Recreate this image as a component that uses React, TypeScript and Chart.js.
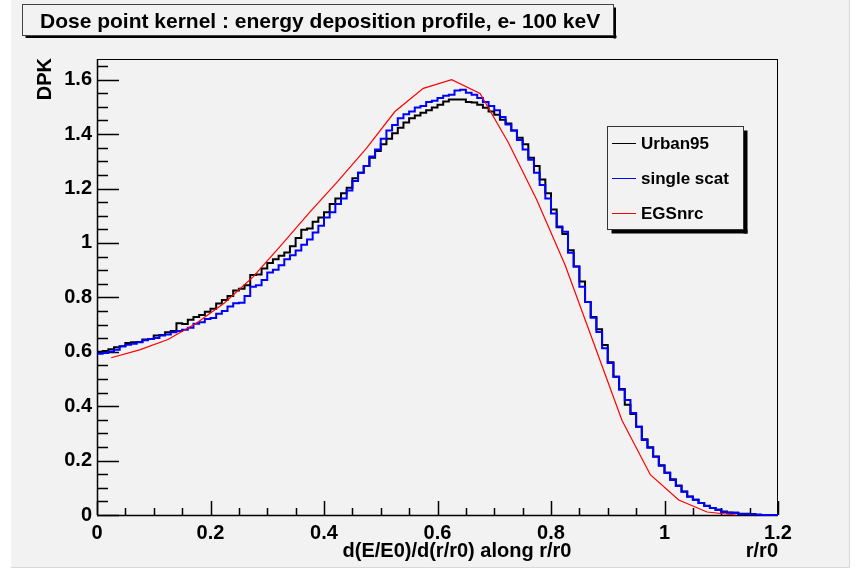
import React, { useEffect, useRef } from "react";
import { Chart, registerables } from "chart.js";

Chart.register(...registerables);

// Histogram binning: 120 bins of width 0.01 over r/r0 in [0, 1.2]
const BIN_WIDTH = 0.01;

// Urban95 multiple-scattering model, per-bin DPK
const urban95 = [
  0.6, 0.603, 0.609, 0.617, 0.62, 0.632, 0.635, 0.636, 0.645, 0.647,
  0.66, 0.662, 0.672, 0.676, 0.705, 0.702, 0.718, 0.728, 0.735, 0.747,
  0.758, 0.777, 0.79, 0.805, 0.825, 0.832, 0.844, 0.882, 0.884, 0.906,
  0.926, 0.94, 0.953, 0.965, 0.988, 1.018, 1.048, 1.053, 1.078, 1.093,
  1.113, 1.143, 1.163, 1.183, 1.203, 1.238, 1.258, 1.283, 1.313, 1.338,
  1.363, 1.383, 1.403, 1.423, 1.443, 1.458, 1.468, 1.478, 1.488, 1.498,
  1.508, 1.52, 1.527, 1.527, 1.527, 1.518, 1.516, 1.508, 1.497, 1.483,
  1.471, 1.453, 1.439, 1.413, 1.387, 1.363, 1.313, 1.283, 1.233, 1.183,
  1.123, 1.058, 1.033, 0.973, 0.913, 0.858, 0.783, 0.728, 0.683, 0.625,
  0.561, 0.508, 0.463, 0.405, 0.371, 0.324, 0.278, 0.249, 0.215, 0.183,
  0.155, 0.131, 0.108, 0.086, 0.068, 0.056, 0.044, 0.034, 0.026, 0.019,
  0.013, 0.009, 0.008, 0.005, 0.005, 0.004, 0, 0, 0, 0,
];

// Single-scattering model, per-bin DPK
const singleScat = [
  0.593, 0.595, 0.601, 0.607, 0.62, 0.626, 0.629, 0.635, 0.642, 0.647,
  0.651, 0.66, 0.663, 0.672, 0.676, 0.681, 0.688, 0.703, 0.708, 0.72,
  0.724, 0.74, 0.75, 0.766, 0.778, 0.78, 0.805, 0.839, 0.844, 0.864,
  0.891, 0.901, 0.918, 0.94, 0.955, 0.972, 0.993, 1.013, 1.038, 1.063,
  1.093, 1.113, 1.143, 1.163, 1.193, 1.228, 1.258, 1.283, 1.318, 1.343,
  1.383, 1.413, 1.433, 1.458, 1.473, 1.483, 1.498, 1.503, 1.518, 1.523,
  1.533, 1.541, 1.545, 1.56, 1.563, 1.552, 1.545, 1.533, 1.518, 1.503,
  1.488, 1.463, 1.435, 1.413, 1.378, 1.343, 1.306, 1.258, 1.213, 1.163,
  1.108, 1.06, 1.041, 0.964, 0.913, 0.839, 0.783, 0.725, 0.673, 0.613,
  0.559, 0.508, 0.46, 0.423, 0.375, 0.324, 0.276, 0.247, 0.214, 0.181,
  0.155, 0.129, 0.107, 0.085, 0.067, 0.056, 0.044, 0.033, 0.026, 0.019,
  0.011, 0.008, 0.008, 0.004, 0.004, 0.003, 0.002, 0, 0, 0,
];

// EGSnrc reference curve
const egsR = [
  0.025, 0.075, 0.125, 0.175, 0.225, 0.275, 0.325, 0.375, 0.425, 0.475,
  0.525, 0.575, 0.625, 0.675, 0.725, 0.775, 0.825, 0.875, 0.925, 0.975,
  1.025, 1.075, 1.125,
];
const egsDpk = [
  0.578, 0.607, 0.645, 0.705, 0.78, 0.875, 0.993, 1.113, 1.228, 1.348,
  1.483, 1.568, 1.6, 1.549, 1.368, 1.158, 0.918, 0.633, 0.348, 0.148,
  0.055, 0.011, 0.0,
];

const xTickValues = [0, 0.2, 0.4, 0.6, 0.8, 1, 1.2];
const yTickValues = [0, 0.2, 0.4, 0.6, 0.8, 1, 1.2, 1.4, 1.6];

const seriesNames = ["Urban95", "single scat", "EGSnrc"];
const seriesColors = ["#000000", "#0000ff", "#ff0000"];

const titleText = "Dose point kernel : energy deposition profile, e- 100 keV";
const xTitle = "d(E/E0)/d(r/r0) along r/r0";
const xUnitTitle = "r/r0";
const yTitle = "DPK";

const FONT = "'Liberation Sans', Arial, Helvetica, sans-serif";
const BG = "#f2f2f2";

function histPoints(values: number[]) {
  const pts = values.map((v, i) => ({ x: i * BIN_WIDTH, y: v }));
  pts.push({ x: values.length * BIN_WIDTH, y: values[values.length - 1] });
  return pts;
}

// ROOT-like frame, inward ticks, title box, legend and axis titles
const rootStylePlugin = {
  id: "rootStyle",
  beforeDraw(chart: any) {
    const { ctx, width, height } = chart;
    ctx.save();
    ctx.fillStyle = "#ffffff";
    ctx.fillRect(0, 0, width, height);
    ctx.fillStyle = BG;
    ctx.fillRect(11, 0, 838, 567);
    ctx.strokeStyle = "#d8d8d8";
    ctx.lineWidth = 1;
    ctx.beginPath();
    ctx.moveTo(11, 567.5);
    ctx.lineTo(849.5, 567.5);
    ctx.lineTo(849.5, 0);
    ctx.stroke();
    ctx.restore();
  },
  beforeDatasetsDraw(chart: any) {
    const { ctx, chartArea } = chart;
    const xs = chart.scales.x;
    const ys = chart.scales.y;
    const { left, right, top, bottom } = chartArea;
    ctx.save();
    ctx.strokeStyle = "#000";
    ctx.lineWidth = 1;
    ctx.strokeRect(left + 0.5, top + 0.5, right - left - 1, bottom - top);
    ctx.lineWidth = 1.5;
    ctx.beginPath();
    // x axis ticks, pointing into the frame
    for (let k = 0; k <= 24; k++) {
      const v = k * 0.05;
      const px = Math.round(xs.getPixelForValue(v)) + 0.5;
      const len = k % 4 === 0 ? 14 : 7;
      ctx.moveTo(px, bottom);
      ctx.lineTo(px, bottom - len);
    }
    // y axis ticks
    for (let k = 0; k <= 33; k++) {
      const v = k * 0.05;
      if (v > ys.max) break;
      const py = Math.round(ys.getPixelForValue(v)) + 0.5;
      const len = k % 4 === 0 ? 22 : 11;
      ctx.moveTo(left, py);
      ctx.lineTo(left + len, py);
    }
    ctx.stroke();
    ctx.lineWidth = 1.5;
    ctx.beginPath();
    ctx.moveTo(left, bottom + 0.5);
    ctx.lineTo(right, bottom + 0.5);
    ctx.moveTo(left + 0.5, top);
    ctx.lineTo(left + 0.5, bottom);
    ctx.stroke();
    ctx.restore();
  },
  afterDraw(chart: any) {
    const { ctx, chartArea } = chart;
    ctx.save();

    // title box with shadow
    const tb = { x: 22.5, y: 4.5, w: 591, h: 31 };
    ctx.fillStyle = "#000";
    ctx.fillRect(tb.x + 3, tb.y + tb.h, tb.w, 2.5);
    ctx.fillRect(tb.x + tb.w, tb.y + 3, 2.5, tb.h);
    ctx.fillStyle = BG;
    ctx.fillRect(tb.x, tb.y, tb.w, tb.h);
    ctx.strokeStyle = "#444";
    ctx.lineWidth = 1;
    ctx.strokeRect(tb.x, tb.y, tb.w, tb.h);
    ctx.fillStyle = "#000";
    ctx.font = `bold 21px ${FONT}`;
    ctx.textBaseline = "alphabetic";
    ctx.textAlign = "left";
    ctx.fillText(titleText, 40, 28);

    // legend box with shadow
    const lb = { x: 607.5, y: 126.5, w: 136, h: 103 };
    ctx.fillStyle = "#000";
    ctx.fillRect(lb.x + 4, lb.y + lb.h, lb.w, 4);
    ctx.fillRect(lb.x + lb.w, lb.y + 4, 4, lb.h);
    ctx.fillStyle = BG;
    ctx.fillRect(lb.x, lb.y, lb.w, lb.h);
    ctx.strokeStyle = "#333";
    ctx.lineWidth = 1;
    ctx.strokeRect(lb.x, lb.y, lb.w, lb.h);
    const rows = [143, 178, 213];
    ctx.font = `bold 17px ${FONT}`;
    ctx.textBaseline = "middle";
    seriesNames.forEach((name, i) => {
      ctx.strokeStyle = seriesColors[i];
      ctx.lineWidth = 1;
      ctx.beginPath();
      ctx.moveTo(612, rows[i] + 0.5);
      ctx.lineTo(636, rows[i] + 0.5);
      ctx.stroke();
      ctx.fillStyle = "#000";
      ctx.fillText(name, 641, rows[i] + 1);
    });

    // axis titles
    ctx.font = `bold 20px ${FONT}`;
    ctx.textBaseline = "middle";
    ctx.textAlign = "center";
    ctx.fillText(xTitle, 457, 551);
    ctx.textAlign = "right";
    ctx.fillText(xUnitTitle, chartArea.right, 551);

    ctx.save();
    ctx.translate(45, chartArea.top - 1);
    ctx.rotate(-Math.PI / 2);
    ctx.font = `bold 20px ${FONT}`;
    ctx.textAlign = "right";
    ctx.textBaseline = "middle";
    ctx.fillText(yTitle, 0, 0);
    ctx.restore();

    ctx.restore();
  },
};

export default function App() {
  const canvasRef = useRef<HTMLCanvasElement | null>(null);

  useEffect(() => {
    const canvas = canvasRef.current;
    if (!canvas) return;
    const chart = new Chart(canvas, {
      type: "line",
      data: {
        datasets: [
          {
            label: seriesNames[0],
            data: histPoints(urban95),
            borderColor: seriesColors[0],
            borderWidth: 2,
            stepped: true,
            pointRadius: 0,
            fill: false,
            clip: 4,
            order: 3,
          },
          {
            label: seriesNames[1],
            data: histPoints(singleScat),
            borderColor: seriesColors[1],
            borderWidth: 2,
            stepped: true,
            pointRadius: 0,
            fill: false,
            clip: 4,
            order: 2,
          },
          {
            label: seriesNames[2],
            data: egsR.map((r, i) => ({ x: r, y: egsDpk[i] })),
            borderColor: seriesColors[2],
            borderWidth: 1.2,
            tension: 0,
            pointRadius: 0,
            fill: false,
            clip: 4,
            order: 1,
          },
        ],
      },
      options: {
        responsive: false,
        animation: false,
        devicePixelRatio: 1,
        layout: { padding: { top: 59, right: 88, left: 0, bottom: 0 } },
        plugins: {
          legend: { display: false },
          tooltip: { enabled: false },
          title: { display: false },
        },
        scales: {
          x: {
            type: "linear",
            min: 0,
            max: 1.2,
            afterFit: (s: any) => {
              s.height = 55;
            },
            afterBuildTicks: (s: any) => {
              s.ticks = xTickValues.map((v) => ({ value: v }));
            },
            grid: { display: false, drawTicks: false },
            border: { display: false },
            ticks: {
              autoSkip: false,
              maxRotation: 0,
              padding: 6,
              color: "#000",
              font: { family: FONT, size: 20, weight: "bold" },
              callback: (v: any) => String(Number(Number(v).toFixed(1))),
            },
          },
          y: {
            type: "linear",
            min: 0,
            max: 1.676,
            afterFit: (s: any) => {
              s.width = 97;
            },
            afterBuildTicks: (s: any) => {
              s.ticks = yTickValues.map((v) => ({ value: v }));
            },
            grid: { display: false, drawTicks: false },
            border: { display: false },
            ticks: {
              autoSkip: false,
              padding: 5,
              color: "#000",
              font: { family: FONT, size: 20, weight: "bold" },
              callback: (v: any) => String(Number(Number(v).toFixed(1))),
            },
          },
        },
      },
      plugins: [rootStylePlugin],
    });
    return () => chart.destroy();
  }, []);

  return (
    <div style={{ position: "absolute", left: 0, top: 0, width: 866, height: 570 }}>
      <canvas ref={canvasRef} width={866} height={570} style={{ display: "block" }} />
    </div>
  );
}
